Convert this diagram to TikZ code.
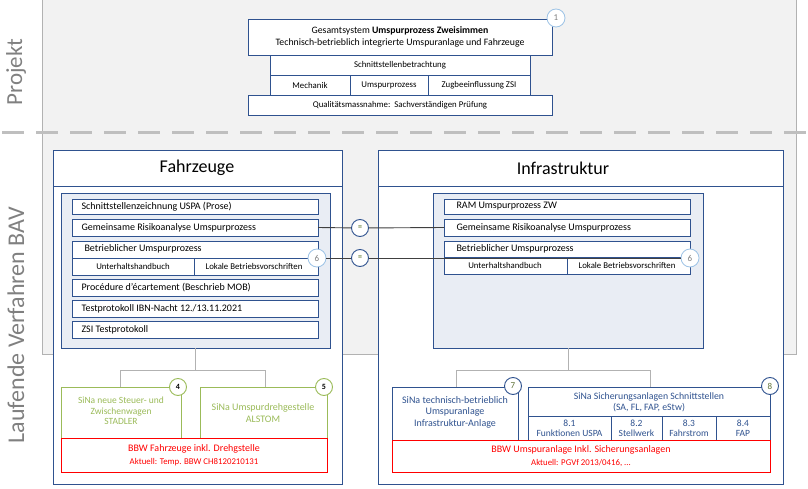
\documentclass[tikz,border=0pt]{standalone}
\usepackage{fontspec}
\setmainfont{Carlito}
\begin{document}
\begin{tikzpicture}[x=1pt,y=-1pt,
 bx/.style={draw=dblue,line width=0.9pt,fill=white,inner sep=0pt},
 lb/.style={font=\fontsize{10}{11.5}\selectfont,text=black},
 sm/.style={font=\fontsize{8.8}{10}\selectfont,text=black},
 circL/.style={circle,draw=lblue,fill=white,line width=0.8pt,minimum size=18pt,inner sep=0pt,font=\fontsize{9}{10}\selectfont,text=gray},
 circD/.style={circle,draw=dblue,fill=white,line width=0.9pt,minimum size=18pt,inner sep=0pt,font=\fontsize{9}{10}\selectfont},
 circG/.style={circle,draw=grn,fill=white,line width=0.9pt,minimum size=17pt,inner sep=0pt,font=\bfseries\fontsize{8}{9}\selectfont},
 tree/.style={draw=gray!60,line width=0.8pt}]
\definecolor{dblue}{HTML}{2F528F}
\definecolor{lblue}{HTML}{9DC3E6}
\definecolor{grn}{HTML}{9BBB59}
\definecolor{panel}{HTML}{F2F2F2}
\definecolor{inner}{HTML}{E9EDF4}
\useasboundingbox (0,0) rectangle (808,489);
% project panel
\fill[panel,draw=gray!60,line width=0.8pt] (42,-2) rectangle (796,354);
\draw[gray!50,line width=3pt,dash pattern=on 22pt off 12pt] (2,133) -- (808,133);
\node[rotate=90,font=\fontsize{23}{25}\selectfont,text=gray] (pj) at (16,72) {Projekt};
\node[rotate=90,font=\fontsize{24}{26}\selectfont,text=gray] (lv) at (16,325) {Laufende Verfahren BAV};
% top stack
\draw[bx] (248,19) rectangle (552,55);
\node[lb,align=center,font=\fontsize{9.8}{11.5}\selectfont] (t1) at (400,37) {Gesamtsystem \textbf{Umspurprozess Zweisimmen}\\Technisch-betrieblich integrierte Umspuranlage und Fahrzeuge};
\draw[bx] (270,55) rectangle (530,75);
\node[sm] (t2) at (400,65) {Schnittstellenbetrachtung};
\draw[bx] (270,75) rectangle (350,95); \node[sm] (t3) at (310,85) {Mechanik};
\draw[bx] (350,75) rectangle (428,95); \node[sm] (t4) at (389,85) {Umspurprozess};
\draw[bx] (428,75) rectangle (530,95); \node[sm] (t5) at (479,85) {Zugbeeinflussung ZSI};
\draw[bx] (248,95) rectangle (552,115);
\node[sm] (t6) at (400,105) {Qualitätsmassnahme:\ \ Sachverständigen Prüfung};
\node[circL] (c1) at (556,18) {1};
% Fahrzeuge
\draw[bx] (53,150) rectangle (342,484);
\draw[dblue,line width=0.9pt] (53,186) -- (342,186);
\node[font=\fontsize{18}{20}\selectfont] (fz) at (197,168) {Fahrzeuge};
\draw[dblue,line width=0.9pt,fill=inner] (61,193) rectangle (330,348);
\coordinate (fzb) at (195,348);
\foreach \a/\b/\t in {199/214/{Schnittstellenzeichnung USPA (Prose)},219/236/{Gemeinsame Risikoanalyse Umspurprozess},279/296/{Procédure d'écartement (Beschrieb MOB)},300/317/{Testprotokoll IBN-Nacht 12./13.11.2021},321/338/{ZSI Testprotokoll}}{
 \draw[bx] (72,\a) rectangle (318,\b);
 \node[lb,anchor=west] at (78,{(\a+\b)/2}) {\t};}
\coordinate (fg) at (318,227.5);
\draw[bx] (72,241) rectangle (318,275);
\draw[dblue,line width=0.9pt] (72,258) -- (318,258) (194,258) -- (194,275);
\node[lb,anchor=west] (fb) at (81,249) {Betrieblicher Umspurprozess};
\node[sm] (fu) at (133,266.5) {Unterhaltshandbuch};
\node[sm] (fl) at (254,266.5) {Lokale Betriebsvorschriften};
% Infrastruktur
\draw[bx] (378,150) rectangle (783,484);
\draw[dblue,line width=0.9pt] (378,186) -- (783,186);
\node[font=\fontsize{18}{20}\selectfont] (inf) at (563,168) {Infrastruktur};
\draw[dblue,line width=0.9pt,fill=inner] (433,193) rectangle (703,348);
\coordinate (ifb) at (568,348);
\draw[bx] (444,199) rectangle (690,214); \node[lb,anchor=west] (ir) at (453,206.5) {RAM Umspurprozess ZW};
\draw[bx] (444,219) rectangle (690,236); \node[lb,anchor=west] (ig) at (453,227.5) {Gemeinsame Risikoanalyse Umspurprozess};
\coordinate (ig1) at (444,227.5);
\draw[bx] (444,241) rectangle (690,274);
\draw[dblue,line width=0.9pt] (444,257) -- (690,257) (567,257) -- (567,274);
\node[lb,anchor=west] (ib) at (453,248.5) {Betrieblicher Umspurprozess};
\node[sm] (iu) at (505,265.5) {Unterhaltshandbuch};
\node[sm] (il) at (627,265.5) {Lokale Betriebsvorschriften};
% connectors
\node[circD,minimum size=17pt,font=\bfseries\fontsize{8}{9}\selectfont,text=grn!70!black] (e1) at (360,228) {=};
\node[circD,minimum size=17pt,font=\bfseries\fontsize{8}{9}\selectfont,text=grn!70!black] (e2) at (360,258) {=};
\node[circL] (c6a) at (317,258) {6};
\node[circL] (c6b) at (690,258) {6};
\draw[line width=0.9pt,black!75] (fg) -- (e1) -- (ig1);
\draw[line width=0.9pt,black!75] (c6a) -- (e2) -- (c6b);
% Fahrzeuge lower
\draw[tree] (fzb) -- (195,370) (120,370) -- (265,370) (120,370) -- (120,387) (265,370) -- (265,387);
\draw[grn,line width=0.9pt,fill=white] (61,387) rectangle (181,438) (200,387) rectangle (327,438);
\node[lb,text=grn,align=center,font=\fontsize{9.5}{10.5}\selectfont] (s4) at (121,411) {SiNa neue Steuer- und\\Zwischenwagen\\STADLER};
\node[lb,text=grn,align=center] (s5) at (263,413) {SiNa Umspurdrehgestelle\\ALSTOM};
\node[circG] (c4) at (178,387) {4};
\node[circG] (c5) at (324,387) {5};
\draw[red,line width=0.9pt,fill=white] (61,438) rectangle (327,472);
\node[lb,text=red,align=center] (r1) at (194,455) {BBW Fahrzeuge inkl. Drehgstelle\\[1pt]{\fontsize{8.8}{10}\selectfont Aktuell: Temp. BBW CH8120210131}};
% Infra lower
\draw[tree] (ifb) -- (568,370) (456,370) -- (650,370) (456,370) -- (456,387) (650,370) -- (650,387);
\draw[bx] (392,387) rectangle (518,440);
\node[lb,text=dblue,align=center] (s7) at (455,412) {SiNa technisch-betrieblich\\Umspuranlage\\Infrastruktur-Anlage};
\draw[bx] (528,387) rectangle (770,440);
\draw[dblue,line width=0.9pt] (528,416) -- (770,416) (611,416) -- (611,440) (662,416) -- (662,440) (716,416) -- (716,440);
\node[lb,text=dblue,align=center,font=\fontsize{9.8}{11}\selectfont] (s8) at (649,402) {SiNa Sicherungsanlagen Schnittstellen\\(SA, FL, FAP, eStw)};
\node[sm,text=dblue,align=center,font=\fontsize{9.5}{10}\selectfont] (s81) at (569.5,428) {8.1\\Funktionen USPA};
\node[sm,text=dblue,align=center,font=\fontsize{9.5}{10}\selectfont] (s82) at (636.5,428) {8.2\\Stellwerk};
\node[sm,text=dblue,align=center,font=\fontsize{9.5}{10}\selectfont] (s83) at (689,428) {8.3\\Fahrstrom};
\node[sm,text=dblue,align=center,font=\fontsize{9.5}{10}\selectfont] (s84) at (743,428) {8.4\\FAP};
\node[circD,minimum size=17pt,text=grn!60!black] (c7) at (513,386) {7};
\node[circD,minimum size=17pt,text=grn!60!black] (c8) at (770,386) {8};
\draw[red,line width=0.9pt,fill=white] (392,440) rectangle (770,472);
\node[lb,text=red,align=center] (r2) at (581,456) {BBW Umspuranlage Inkl. Sicherungsanlagen\\[1pt]{\fontsize{8.8}{10}\selectfont Aktuell: PGVf 2013/0416, ...}};
\end{tikzpicture}
\end{document}
